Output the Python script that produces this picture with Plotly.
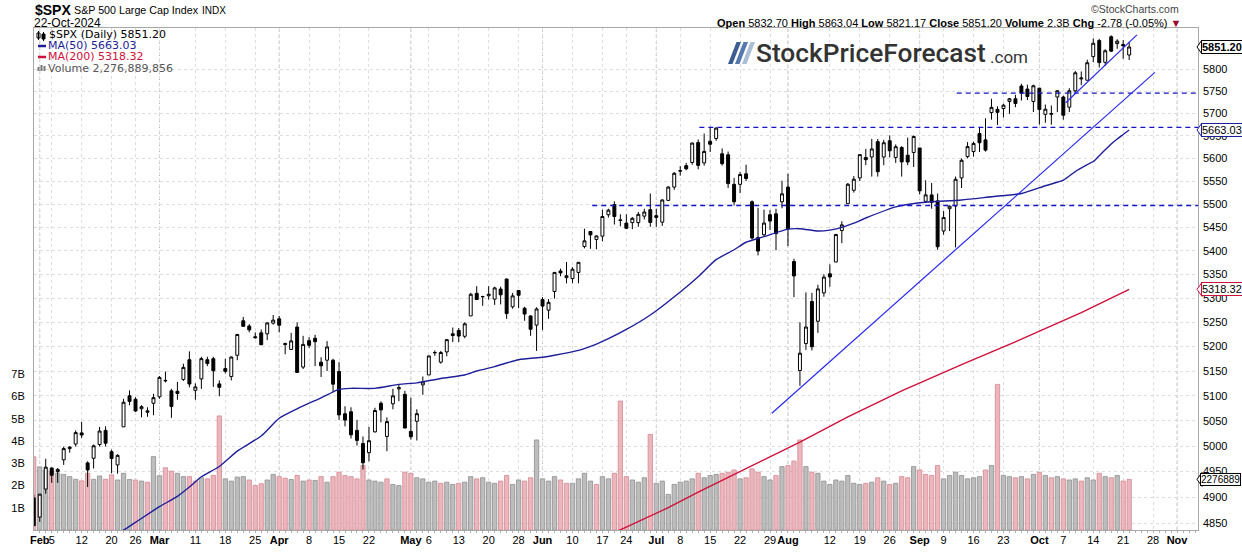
import math
import pandas as pd
import plotly.graph_objects as go

# ---------------- data ----------------
holidays = ['2024-02-19', '2024-03-29', '2024-05-27', '2024-06-19', '2024-07-04', '2024-09-02']
first_day = '2024-01-31'
calendar_end = '2024-11-06'

open_ = [4899, 4862, 4916, 4957, 4950, 4973, 4995, 5004, 5026, 4967, 4976, 5003, 5031, 4989, 4963, 5038, 5100, 5093, 5074, 5067, 5085,
         5098, 5130, 5110, 5109, 5133, 5173, 5111, 5134, 5173, 5175, 5124, 5155, 5139, 5182, 5253, 5242, 5220, 5228, 5226, 5248,
         5257, 5204, 5194, 5240, 5158, 5212, 5217, 5168, 5172, 5172, 5149, 5064, 5068, 5031, 5005, 4987, 5028, 5085, 5019, 5084, 5114, 5103,
         5029, 5049, 5122, 5142, 5187, 5168, 5189, 5226, 5233, 5221, 5263, 5310, 5303, 5305, 5298, 5319, 5340, 5282, 5316, 5279, 5263, 5244,
         5297, 5275, 5314, 5357, 5343, 5341, 5354, 5409, 5441, 5424, 5431, 5477, 5499, 5466, 5459, 5460, 5460, 5474, 5488,
         5471, 5461, 5508, 5537, 5572, 5584, 5591, 5635, 5590, 5638, 5644, 5610, 5608, 5543, 5543, 5566, 5505, 5428, 5434, 5477, 5479, 5505,
         5537, 5377, 5151, 5206, 5293, 5252, 5311, 5351, 5376, 5443, 5501, 5530, 5557, 5602, 5603, 5637, 5603, 5639, 5602, 5624, 5607, 5613,
         5623, 5506, 5520, 5507, 5442, 5490, 5496, 5557, 5604, 5615, 5655, 5641, 5702, 5709, 5711, 5727, 5733, 5762, 5755, 5727,
         5757, 5698, 5698, 5737, 5737, 5714, 5751, 5778, 5775, 5829, 5866, 5816, 5875, 5859, 5857, 5832.70]
high = [4906, 4906, 4975, 4958, 4957, 4999, 5000, 5031, 5048, 4970, 5003, 5038, 5039, 4993, 4984, 5094, 5111, 5097, 5081, 5077, 5104,
        5140, 5149, 5114, 5128, 5165, 5190, 5125, 5179, 5179, 5179, 5131, 5175, 5180, 5226, 5261, 5246, 5229, 5235, 5250, 5265,
        5263, 5208, 5228, 5250, 5222, 5219, 5224, 5178, 5211, 5175, 5168, 5079, 5077, 5052, 5019, 5038, 5076, 5089, 5057, 5114, 5123, 5110,
        5096, 5073, 5139, 5181, 5192, 5191, 5215, 5239, 5238, 5250, 5311, 5325, 5305, 5325, 5324, 5324, 5341, 5311, 5317, 5282, 5264, 5281,
        5302, 5298, 5354, 5362, 5376, 5365, 5376, 5447, 5442, 5432, 5488, 5490, 5506, 5478, 5478, 5472, 5483, 5490, 5523,
        5490, 5510, 5539, 5570, 5583, 5590, 5635, 5642, 5655, 5670, 5669, 5622, 5615, 5557, 5570, 5586, 5508, 5492, 5488, 5487, 5490, 5551,
        5566, 5383, 5250, 5312, 5311, 5328, 5350, 5371, 5436, 5463, 5546, 5561, 5608, 5621, 5643, 5643, 5641, 5651, 5631, 5627, 5646, 5651,
        5623, 5552, 5546, 5523, 5485, 5497, 5560, 5600, 5636, 5637, 5670, 5689, 5733, 5716, 5722, 5735, 5742, 5767, 5765, 5765,
        5758, 5720, 5718, 5753, 5740, 5757, 5796, 5795, 5822, 5871, 5870, 5846, 5878, 5869, 5867, 5863.04]
low = [4845, 4853, 4907, 4928, 4928, 4963, 4987, 4999, 5016, 4920, 4956, 4999, 4999, 4947, 4946, 5038, 5081, 5068, 5057, 5058, 5061,
       5094, 5127, 5056, 5092, 5130, 5117, 5092, 5114, 5160, 5118, 5099, 5145, 5131, 5172, 5241, 5229, 5216, 5203, 5213, 5245,
       5229, 5184, 5194, 5146, 5154, 5197, 5160, 5138, 5150, 5107, 5052, 5039, 5015, 5001, 4954, 4970, 5027, 5047, 4990, 5073, 5089, 5035,
       5013, 5011, 5102, 5142, 5181, 5165, 5180, 5209, 5209, 5217, 5263, 5296, 5284, 5297, 5286, 5287, 5257, 5278, 5279, 5253, 5222, 5191,
       5234, 5257, 5299, 5346, 5331, 5331, 5331, 5405, 5404, 5403, 5420, 5471, 5456, 5452, 5446, 5446, 5451, 5467, 5451,
       5451, 5453, 5507, 5531, 5562, 5574, 5586, 5576, 5584, 5614, 5639, 5584, 5535, 5497, 5524, 5550, 5424, 5390, 5430, 5444, 5401, 5491,
       5410, 5302, 5120, 5193, 5192, 5228, 5303, 5324, 5376, 5416, 5501, 5525, 5550, 5585, 5560, 5560, 5585, 5602, 5590, 5560, 5585, 5581,
       5521, 5503, 5490, 5402, 5434, 5442, 5407, 5535, 5600, 5604, 5614, 5615, 5686, 5674, 5691, 5699, 5714, 5729, 5730, 5703,
       5675, 5679, 5675, 5703, 5686, 5703, 5745, 5764, 5775, 5816, 5804, 5808, 5840, 5847, 5824, 5821.17]
close = [4845.65, 4906.19, 4958.61, 4942.81, 4954.23, 4995.06, 4997.91, 5026.61, 5021.84, 4953.17, 5000.62, 5029.73, 5005.57, 4975.51,
         4981.80, 5087.03, 5088.80, 5069.53, 5078.18, 5069.76, 5096.27,
         5137.08, 5130.95, 5078.65, 5104.76, 5157.36, 5123.69, 5117.94, 5175.27, 5165.31, 5150.48, 5117.09, 5149.42, 5178.51, 5224.62,
         5241.53, 5234.18, 5218.19, 5203.58, 5248.49, 5254.35,
         5243.77, 5205.81, 5211.49, 5147.21, 5204.34, 5202.39, 5209.91, 5160.64, 5199.06, 5123.41, 5061.82, 5051.41, 5022.21, 5011.12,
         4967.23, 5010.60, 5070.55, 5071.63, 5048.42, 5099.96, 5116.17, 5035.69,
         5018.39, 5064.20, 5127.79, 5180.74, 5187.70, 5187.67, 5214.08, 5222.68, 5221.42, 5246.68, 5308.15, 5297.10, 5303.27, 5308.13,
         5321.41, 5307.01, 5267.84, 5304.72, 5306.04, 5266.95, 5235.48, 5277.51,
         5283.40, 5291.34, 5354.03, 5352.96, 5346.99, 5360.79, 5375.32, 5421.03, 5433.74, 5431.60, 5473.23, 5487.03, 5473.17, 5464.62,
         5447.87, 5469.30, 5477.90, 5482.87, 5460.48,
         5475.09, 5509.01, 5537.02, 5567.19, 5572.85, 5576.98, 5633.91, 5584.54, 5615.35, 5631.22, 5667.20, 5588.27, 5544.59, 5505.00,
         5564.41, 5555.74, 5427.13, 5399.22, 5459.10, 5463.54, 5436.44, 5522.30,
         5446.68, 5346.56, 5186.33, 5240.03, 5199.50, 5319.31, 5344.16, 5344.39, 5434.43, 5455.21, 5543.22, 5554.25, 5608.25, 5597.12,
         5620.85, 5570.64, 5634.61, 5616.84, 5625.80, 5592.18, 5591.96, 5648.40,
         5528.93, 5520.07, 5503.41, 5408.42, 5471.05, 5495.52, 5554.13, 5595.76, 5626.02, 5633.09, 5634.58, 5618.26, 5713.64, 5702.55,
         5718.57, 5732.93, 5722.26, 5745.37, 5738.17, 5762.48,
         5708.75, 5709.54, 5699.94, 5751.07, 5695.94, 5751.13, 5792.04, 5780.05, 5815.03, 5859.85, 5815.26, 5842.47, 5841.47, 5864.67,
         5853.98, 5851.20]
volume_bn = [3.29, 2.84, 2.70, 2.65, 2.56, 2.50, 2.40, 2.28, 2.21, 2.55, 2.28, 2.43, 2.28, 2.48, 2.25, 2.55, 2.27, 2.25, 2.20, 2.15, 3.30,
             2.44, 2.80, 2.65, 2.55, 2.40, 2.40, 2.20, 2.35, 2.30, 2.45, 5.13, 2.30, 2.20, 2.38, 2.40, 2.25, 2.00, 2.08, 2.25, 2.50,
             2.40, 2.33, 2.27, 2.45, 2.20, 2.25, 2.23, 2.40, 2.15, 2.40, 2.60, 2.45, 2.40, 2.30, 2.90, 2.25, 2.20, 2.15, 2.30, 2.05, 2.00, 2.60,
             2.55, 2.35, 2.30, 2.15, 2.20, 2.10, 2.15, 2.05, 2.10, 2.15, 2.40, 2.30, 2.35, 2.15, 2.10, 2.20, 2.45, 2.05, 2.25, 2.20, 2.35, 4.05,
             2.30, 2.20, 2.40, 2.25, 2.10, 2.10, 2.30, 2.55, 2.20, 2.05, 2.40, 2.30, 2.55, 5.80, 2.40, 2.25, 2.15, 2.35, 4.30,
             2.10, 2.20, 1.60, 2.05, 2.15, 2.20, 2.30, 2.55, 2.35, 2.45, 2.50, 2.55, 2.60, 2.70, 2.30, 2.35, 2.75, 2.60, 2.40, 2.25, 2.45, 2.85,
             2.90, 3.10, 4.05, 2.85, 2.60, 2.55, 2.20, 2.05, 2.25, 2.20, 2.45, 2.10, 2.05, 2.10, 2.15, 2.35, 2.20, 2.05, 2.10, 2.40, 2.35, 2.85,
             2.70, 2.50, 2.45, 2.90, 2.30, 2.45, 2.60, 2.45, 2.30, 2.35, 2.40, 2.70, 2.90, 6.55, 2.45, 2.40, 2.35, 2.40, 2.30, 2.50,
             2.60, 2.45, 2.35, 2.40, 2.30, 2.25, 2.30, 2.20, 2.35, 2.25, 2.55, 2.40, 2.35, 2.45, 2.20, 2.276889856]

# moving averages (trading-day number counted from 31-Jan-2024, value)
ma50_day = [13, 15, 17, 21, 24, 26, 28, 31, 34, 38, 41, 44, 48, 51, 53, 57, 61, 64, 68, 72, 74, 77, 81, 85, 87, 91, 94, 96, 99, 103,
            108, 111, 114, 117, 119, 122, 126, 128, 131, 133, 135, 137, 139, 144, 148, 155, 160, 165, 169, 172, 174, 176, 177, 178,
            179, 180, 181, 182, 183]
ma50_value = [4825, 4837, 4852, 4882, 4902, 4920, 4940, 4960, 4990, 5020, 5055, 5074, 5096, 5113, 5115, 5115, 5123, 5126, 5135,
              5142, 5150, 5159, 5173, 5178, 5182, 5192, 5205, 5216, 5235, 5265, 5313, 5345, 5381, 5402, 5418, 5430, 5446, 5447,
              5442, 5444, 5450, 5459, 5470, 5494, 5503, 5509, 5516, 5523, 5540, 5552, 5571, 5586, 5593, 5606, 5619, 5632, 5643,
              5653, 5663.03]
ma200_day = [95, 98, 106, 111, 121, 128, 136, 145, 155, 165, 175, 183]
ma200_value = [4822, 4838, 4880, 4910, 4968, 5008, 5058, 5110, 5163, 5215, 5270, 5318.32]

# annotations drawn on the chart (trading-day number, price)
trend_day = [[123.3, 187.3], [172.4, 184.3]]
trend_price = [[5065, 5793], [5724, 5879]]
level_price = [5497, 5669, 5746]
level_start_day = [93.3, 111.2, 154.2]

tick_dates = ['2024-02-01', '2024-02-05', '2024-02-12', '2024-02-20', '2024-02-26', '2024-03-01', '2024-03-11', '2024-03-18',
              '2024-03-25', '2024-04-01', '2024-04-08', '2024-04-15', '2024-04-22', '2024-05-01', '2024-05-06', '2024-05-13',
              '2024-05-20', '2024-05-28', '2024-06-03', '2024-06-10', '2024-06-17', '2024-06-24', '2024-07-01', '2024-07-08',
              '2024-07-15', '2024-07-22', '2024-07-29', '2024-08-01', '2024-08-12', '2024-08-19', '2024-08-26', '2024-09-03',
              '2024-09-09', '2024-09-16', '2024-09-23', '2024-10-01', '2024-10-07', '2024-10-14', '2024-10-21', '2024-10-28',
              '2024-11-01']
tick_text = ['Feb', '5', '12', '20', '26', 'Mar', '11', '18', '25', 'Apr', '8', '15', '22', 'May', '6', '13', '20', '28', 'Jun',
             '10', '17', '24', 'Jul', '8', '15', '22', '29', 'Aug', '12', '19', '26', 'Sep', '9', '16', '23', 'Oct', '7', '14',
             '21', '28', 'Nov']
month_names = {'Feb', 'Mar', 'Apr', 'May', 'Jun', 'Jul', 'Aug', 'Sep', 'Oct', 'Nov'}

price_ticks = list(range(4850, 5801, 50))
volume_ticks_bn = [1, 2, 3, 4, 5, 6, 7]

# ---------------- geometry ----------------
W, H = 1242, 557
L, R, T, B = 34, 44, 28, 27
PW, PH = W - L - R, H - T - B

def px(xp):
    return (xp - L) / PW

def py(yp):
    return (H - B - yp) / PH

days = pd.bdate_range(first_day, calendar_end, freq='C', holidays=holidays)
day_index = {d.strftime('%Y-%m-%d'): i for i, d in enumerate(days)}
n = len(close)
xs = list(range(n))
x_range = [0.04, 194.5]
price_range = [math.log10(4837.4), math.log10(5895.1)]
vol_range = [0, 22.58e9]

volume = [v * 1e9 for v in volume_bn]
vol_up = []
for i in range(n):
    ref = close[i - 1] if i > 0 else open_[i]
    vol_up.append(close[i] >= ref)
vol_fill = ['#bdbdbd' if u else '#ebb7bd' for u in vol_up]
vol_line = ['#8e8e8e' if u else '#d48893' for u in vol_up]

FONT = 'Liberation Sans, Arial, sans-serif'

fig = go.Figure()
fig.add_trace(go.Bar(x=xs, y=volume, width=0.72, marker=dict(color=vol_fill, line=dict(color=vol_line, width=0.8)),
                     yaxis='y', showlegend=False, hoverinfo='skip'))
fig.add_trace(go.Scatter(x=ma200_day, y=ma200_value, mode='lines', line=dict(color='#d0103c', width=1.4),
                         yaxis='y2', showlegend=False, hoverinfo='skip'))
fig.add_trace(go.Scatter(x=ma50_day, y=ma50_value, mode='lines', line=dict(color='#1e1e9a', width=1.4, shape='spline', smoothing=0.6),
                         yaxis='y2', showlegend=False, hoverinfo='skip'))
for d0, p in zip(level_start_day, level_price):
    fig.add_trace(go.Scatter(x=[d0, x_range[1]], y=[p, p], mode='lines',
                             line=dict(color='#1414c8', width=1.3, dash='5px,4px'),
                             yaxis='y2', showlegend=False, hoverinfo='skip'))
for dd, pp in zip(trend_day, trend_price):
    fig.add_trace(go.Scatter(x=dd, y=pp, mode='lines', line=dict(color='#2a2af0', width=1.2),
                             yaxis='y2', showlegend=False, hoverinfo='skip'))
fig.add_trace(go.Candlestick(x=xs, open=open_, high=high, low=low, close=close, yaxis='y2',
                             increasing=dict(line=dict(color='black', width=1), fillcolor='white'),
                             decreasing=dict(line=dict(color='black', width=1), fillcolor='black'),
                             whiskerwidth=0, showlegend=False, hoverinfo='skip'))

tick_pos = [day_index[d] for d in tick_dates]
tick_labels = ['<b>%s</b>' % t if t in month_names else t for t in tick_text]

shapes = []
for d, t in zip(tick_pos, tick_text):
    if t in month_names:
        shapes.append(dict(type='line', xref='x', yref='paper', x0=d, x1=d, y0=0, y1=1,
                           line=dict(color='#bcbcbc', width=1, dash='3px,3px'), layer='below'))

# legend icons
shapes.append(dict(type='line', xref='paper', yref='paper', x0=px(38), x1=px(46), y0=py(46), y1=py(46),
                   line=dict(color='#1e1e9a', width=2.5)))
shapes.append(dict(type='line', xref='paper', yref='paper', x0=px(38), x1=px(46), y0=py(57), y1=py(57),
                   line=dict(color='#d0103c', width=2.5)))
for k, (x0, h) in enumerate([(37.5, 4), (40.5, 6), (43.5, 5)]):
    shapes.append(dict(type='rect', xref='paper', yref='paper', x0=px(x0), x1=px(x0 + 2), y0=py(71), y1=py(71 - h),
                       line=dict(width=0), fillcolor='#777777'))
shapes.append(dict(type='rect', xref='paper', yref='paper', x0=px(37), x1=px(40), y0=py(38), y1=py(33),
                   line=dict(color='black', width=1), fillcolor='white'))
shapes.append(dict(type='line', xref='paper', yref='paper', x0=px(38.5), x1=px(38.5), y0=py(40), y1=py(31),
                   line=dict(color='black', width=1)))
shapes.append(dict(type='rect', xref='paper', yref='paper', x0=px(42), x1=px(45), y0=py(39), y1=py(34),
                   line=dict(color='black', width=1), fillcolor='black'))
shapes.append(dict(type='line', xref='paper', yref='paper', x0=px(43.5), x1=px(43.5), y0=py(41), y1=py(32),
                   line=dict(color='black', width=1)))

# logo slashes
logo_cols = ['#3c5d94', '#5578ae', '#aabed5']
for k, c in enumerate(logo_cols):
    o = 7.0 * k
    path = 'M %f %f L %f %f L %f %f L %f %f Z' % (px(728 + o), py(64), px(732.5 + o), py(64),
                                                  px(741 + o), py(42), px(736.5 + o), py(42))
    shapes.append(dict(type='path', xref='paper', yref='paper', path=path, fillcolor=c, line=dict(width=0)))

ann = []
def txt(x, y, text, size=11, color='black', xanchor='left', family=FONT, weight=None, **kw):
    f = dict(size=size, color=color, family=family)
    if weight is not None:
        f['weight'] = weight
    ann.append(dict(x=px(x), y=py(y), xref='paper', yref='paper', text=text, showarrow=False,
                    xanchor=xanchor, yanchor='middle', font=f, **kw))

txt(33, 10, '<b>$SPX</b>', size=14)
txt(72, 10, 'S&P 500 Large Cap Index', size=10.7)
txt(200, 10.5, 'INDX', size=10)
txt(32, 23, '22-Oct-2024', size=12)
txt(1181, 9, '©StockCharts.com', size=10.5, color='#444444', xanchor='right')
txt(1183, 22.5, '<b>Open</b> 5832.70 <b>High</b> 5863.04 <b>Low</b> 5821.17 <b>Close</b> 5851.20 '
    '<b>Volume</b> 2.3B <b>Chg</b> -2.78 (-0.05%) <span style="color:#9c0a2e">▼</span>', size=11, xanchor='right')

LEG = 'DejaVu Sans, Verdana, sans-serif'
txt(47, 35, '$SPX (Daily) 5851.20', size=11, family=LEG)
txt(46, 46, 'MA(50) 5663.03', size=11, color='#1e1e9a', family=LEG)
txt(46, 57, 'MA(200) 5318.32', size=11, color='#d0103c', family=LEG)
txt(46, 68, 'Volume 2,276,889,856', size=11, color='#555555', family=LEG)

txt(754, 53, 'StockPriceForecast', size=26.3, color='#333333', family='Roboto, Liberation Sans, sans-serif', weight=500)
txt(988, 57.5, '.com', size=17, color='#333333', family='Roboto, Liberation Sans, sans-serif')

# value tags on the right axis (chevron + box)
def tag(val, yref, border, bold=False, text=None, size=11, xshift=3):
    if yref == 'y2':
        yv = math.log10(val)
        ypix = T + (price_range[1] - yv) / (price_range[1] - price_range[0]) * PH
    else:
        yv = val
        ypix = T + (vol_range[1] - yv) / (vol_range[1] - vol_range[0]) * PH
    path = 'M %f %f L %f %f L %f %f Z' % (px(1197), py(ypix), px(1202), py(ypix - 7), px(1202), py(ypix + 7))
    shapes.append(dict(type='path', xref='paper', yref='paper', path=path, fillcolor='white',
                       line=dict(color=border, width=1), layer='above'))
    label = text if text is not None else '%.2f' % val
    ann.append(dict(x=1, xref='paper', y=yv, yref=yref, xanchor='left', yanchor='middle', xshift=xshift,
                    text='<b>%s</b>' % label if bold else label, showarrow=False,
                    font=dict(size=size, color='black', family=FONT), bgcolor='white',
                    bordercolor=border, borderwidth=1, borderpad=0))

tag(close[-1], 'y2', 'black', bold=True, size=11)
tag(ma50_value[-1], 'y2', '#1e1e9a')
tag(ma200_value[-1], 'y2', '#d0103c')
tag(volume[-1], 'y', 'black', text='%d' % int(volume[-1] / 1000), size=10, xshift=2)

fig.update_layout(
    width=W, height=H, autosize=False,
    margin=dict(l=L, r=R, t=T, b=B),
    paper_bgcolor='white', plot_bgcolor='white',
    font=dict(family=FONT, size=11, color='black'),
    showlegend=False,
    xaxis=dict(range=x_range, tickmode='array', tickvals=tick_pos, ticktext=tick_labels, tickangle=0, showgrid=True,
               gridcolor='#dedede', griddash='3px,3px', gridwidth=1, zeroline=False, showline=True, mirror=True,
               linecolor='#a8a8a8', linewidth=1, ticks='', tickfont=dict(size=11), rangeslider=dict(visible=False),
               minor=dict(tickmode='linear', tick0=0, dtick=1, ticks='outside', ticklen=2, tickcolor='#b0b0b0',
                          showgrid=False)),
    yaxis=dict(range=vol_range, tickmode='array', tickvals=[v * 1e9 for v in volume_ticks_bn],
               ticktext=['%dB' % v for v in volume_ticks_bn], side='left', showgrid=False, zeroline=False,
               showline=True, mirror=True, linecolor='#a8a8a8', ticks='', ticklabelstandoff=6,
               tickfont=dict(size=11)),
    yaxis2=dict(type='log', range=price_range, overlaying='y', side='right', tickmode='array', tickvals=price_ticks,
                ticktext=[str(v) for v in price_ticks], showgrid=True, gridcolor='#dedede', griddash='3px,3px',
                zeroline=False, showline=False, ticks='', ticklabelstandoff=4, tickfont=dict(size=11)),
    shapes=shapes,
    annotations=ann,
)

fig.write_html('out.html', config={'displayModeBar': False},
               post_script="document.body.style.margin='0px';document.body.style.padding='0px';"
                           "document.body.style.overflow='hidden';")
